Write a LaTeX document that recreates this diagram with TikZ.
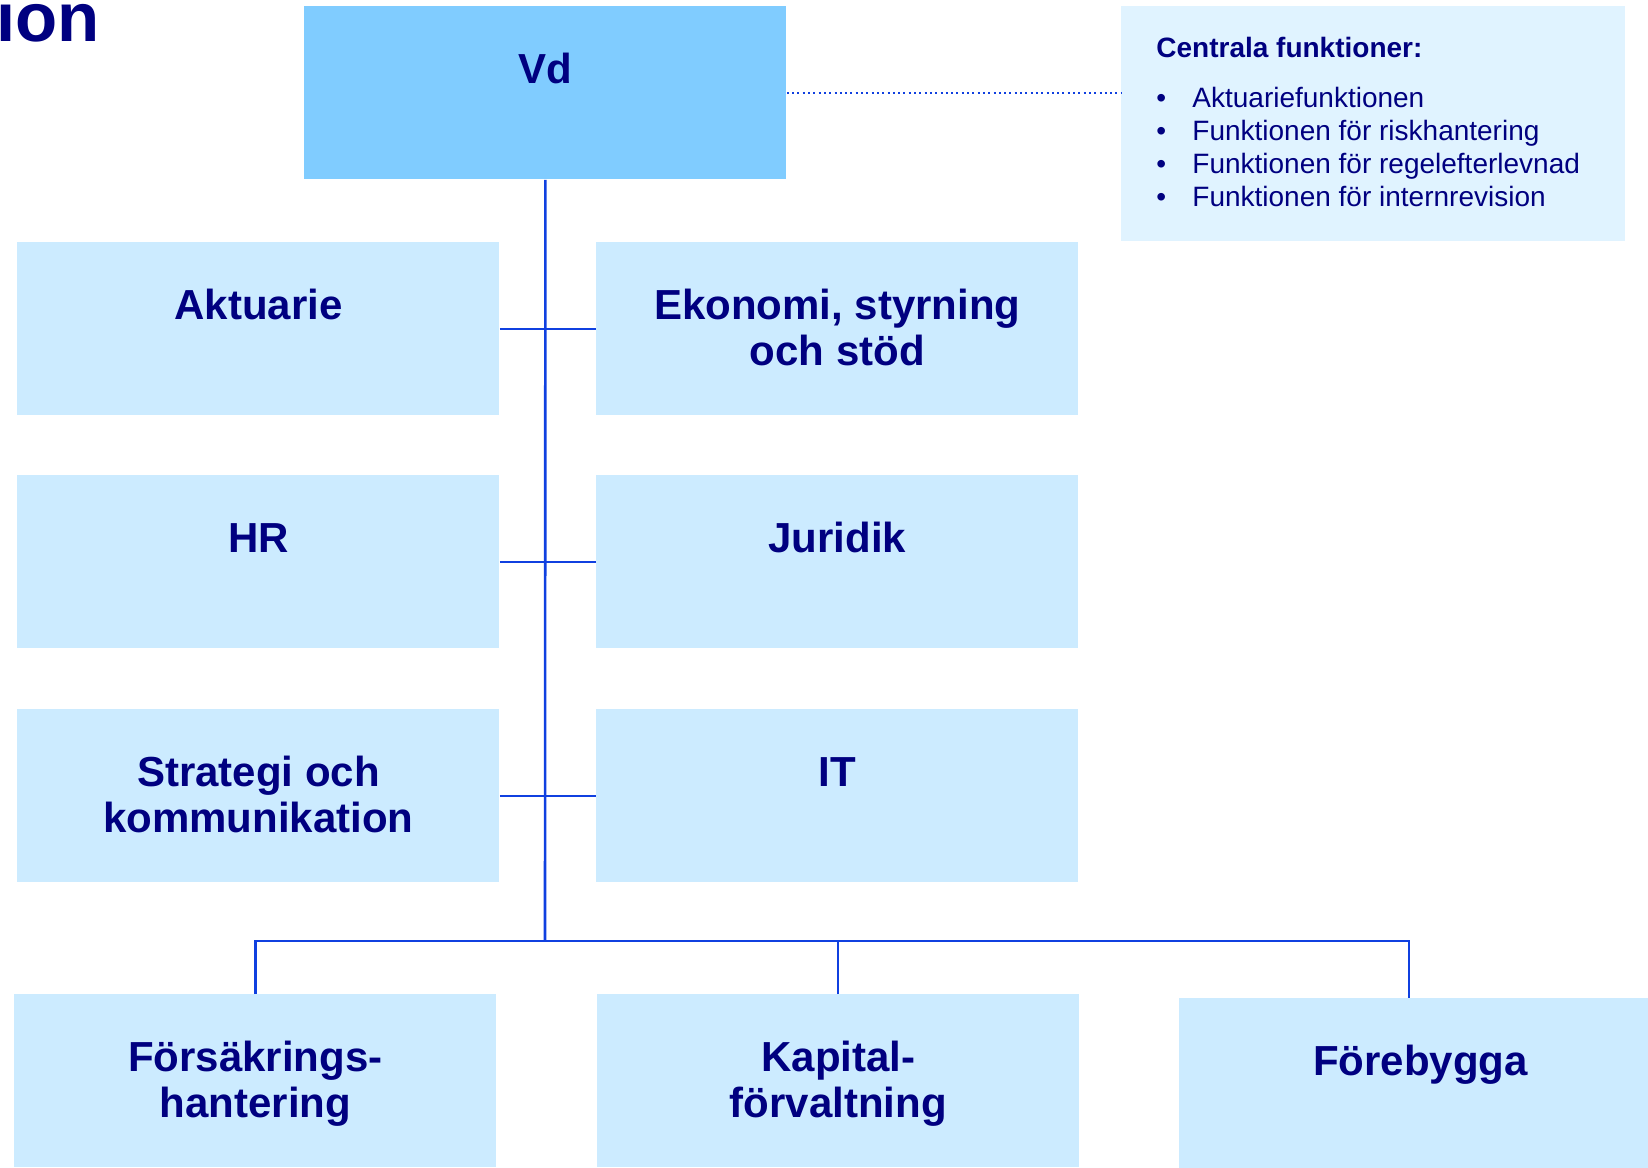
\documentclass[tikz,border=0pt]{standalone}
\usepackage{fontspec}
\setmainfont{Liberation Sans}
\definecolor{navy}{HTML}{000080}
\definecolor{boxblue}{HTML}{CCEBFF}
\definecolor{vdblue}{HTML}{80CCFF}
\definecolor{infoblue}{HTML}{E0F3FF}
\definecolor{linjeblue}{HTML}{1040E0}
\begin{document}
\begin{tikzpicture}[x=0.5pt,y=-0.5pt,
    box/.style={fill=boxblue,minimum width=241pt,minimum height=86.5pt,inner sep=0pt,anchor=north west},
    boxtext/.style={font=\fontsize{21}{23}\selectfont\bfseries,text=navy,align=center,anchor=base,inner sep=0pt,yshift=-38.5pt},
    tvarad/.style={boxtext,yshift=-23pt},
    item/.style={font=\fontsize{14}{16}\selectfont,text=navy,anchor=base west,inner sep=0pt},
    linje/.style={draw=linjeblue,line width=1.3pt},
    prick/.style={draw=linjeblue,line width=1pt,dash pattern=on 1pt off 1.65pt}]
  \useasboundingbox (0,0) rectangle (1648,1167);
  \clip (0,0) rectangle (1648,1167);
  % title, cut at the left edge
  \node[font=\fontsize{34.5}{40}\selectfont\bfseries,text=navy,anchor=base east,inner sep=0pt] (titel) at (100,41) {ion};
  % top box and the central functions
  \node[box,fill=vdblue] (vd) at (304,6) {};
  \node[boxtext] (vdT) at (vd.north) {Vd};
  \node[box,fill=infoblue,minimum width=252pt,minimum height=117.5pt] (info) at (1121,6) {};
  \node[item,font=\fontsize{14}{16}\selectfont\bfseries] (rubrik) at (1156,57) {Centrala funktioner:};
  \foreach \txt [count=\i] in {Aktuariefunktionen,Funktionen för riskhantering,Funktionen för regelefterlevnad,Funktionen för internrevision} {
    \node[item] (punkt\i) at (1156,{74+33*\i}) {•};
    \node[item] (funk\i) at (1192,{74+33*\i}) {\txt};
  }
  % staff units
  \node[box] (aktuarie) at (17,242) {};
  \node[boxtext] (aktuarieT) at (aktuarie.north) {Aktuarie};
  \node[box] (ekonomi) at (596,242) {};
  \node[tvarad] (ekonomiT) at (ekonomi.north) {Ekonomi, styrning\\och stöd};
  \node[box] (hr) at (17,475) {};
  \node[boxtext] (hrT) at (hr.north) {HR};
  \node[box] (juridik) at (596,475) {};
  \node[boxtext] (juridikT) at (juridik.north) {Juridik};
  \node[box] (strategi) at (17,709) {};
  \node[tvarad] (strategiT) at (strategi.north) {Strategi och\\kommunikation};
  \node[box] (it) at (596,709) {};
  \node[boxtext] (itT) at (it.north) {IT};
  % line units
  \node[box] (fors) at (14,994) {};
  \node[tvarad] (forsT) at (fors.north) {Försäkrings-\\hantering};
  \node[box] (kapital) at (597,994) {};
  \node[tvarad] (kapitalT) at (kapital.north) {Kapital-\\förvaltning};
  \node[box] (forebygga) at (1179,998) {};
  \node[boxtext] (forebyggaT) at (forebygga.north) {Förebygga};
  % connectors
  \coordinate (buss) at (545,941);
  \coordinate (hoger) at (1409,941);
  \draw[prick] (vd.east) -- (info.west |- vd.east);
  \draw[linje] (vd.south) -- (buss);
  \draw[linje] (aktuarie.east) -- (ekonomi.west);
  \draw[linje] (hr.east) -- (juridik.west);
  \draw[linje] (strategi.east) -- (it.west);
  \draw[linje] (fors.north) -- (fors.north |- buss) -- (hoger) -- (hoger |- forebygga.north);
  \draw[linje,line width=1pt] (kapital.north) -- (kapital.north |- buss);
\end{tikzpicture}
\end{document}
